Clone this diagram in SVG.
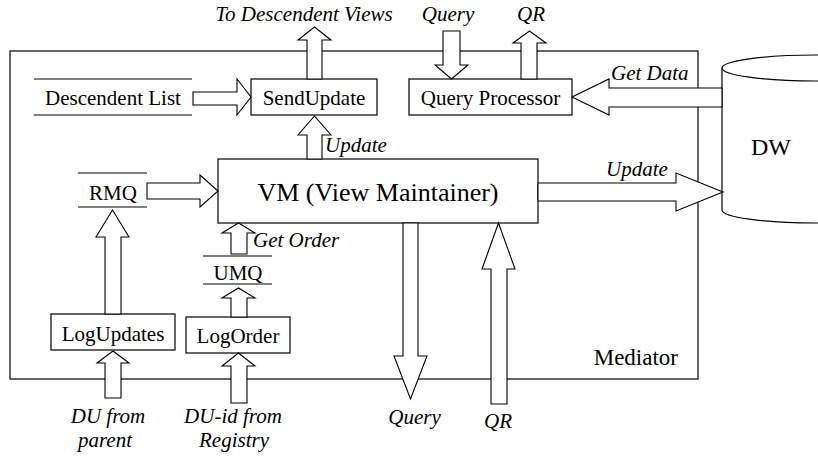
<svg xmlns="http://www.w3.org/2000/svg" width="818" height="457" viewBox="0 0 818 457">
  <style>
    .box { fill: #fff; stroke: #000; stroke-width: 1.2; }
    .frame { fill: none; stroke: #000; stroke-width: 1.2; }
    .rule { stroke: #000; stroke-width: 1.2; }
    .arrow { fill: #fff; stroke: #000; stroke-width: 1.1; stroke-linejoin: miter; }
    text { font-family: "Liberation Serif", "Times New Roman", serif; fill: #000; }
    .lbl { font-size: 21px; text-anchor: middle; }
    .it { font-size: 21px; font-style: italic; }
    .mid { text-anchor: middle; }
  </style>

  <!-- Mediator boundary -->
  <g id="mediator">
    <rect class="frame" x="10" y="51" width="688" height="328"/>
    <text x="678" y="365" style="font-size:23px" text-anchor="end">Mediator</text>
  </g>

  <!-- Data warehouse cylinder -->
  <g id="dw">
    <path class="box" d="M722,68 V210 A93,13 0 0 0 908,210 V68 Z"/>
    <ellipse class="box" cx="815" cy="68" rx="93" ry="13"/>
    <text x="771" y="155" style="font-size:24px" text-anchor="middle">DW</text>
  </g>

  <g id="descendent-list">
    <line class="rule" x1="34" y1="79" x2="192" y2="79"/>
    <line class="rule" x1="34" y1="115" x2="192" y2="115"/>
    <text class="lbl" x="113" y="105">Descendent List</text>
  </g>

  <g id="send-update">
    <rect class="box" x="251" y="79" width="126" height="36"/>
    <text class="lbl" x="314" y="105">SendUpdate</text>
  </g>

  <g id="query-processor">
    <rect class="box" x="409" y="79" width="163" height="36"/>
    <text class="lbl" x="490.5" y="105">Query Processor</text>
  </g>

  <g id="vm">
    <rect class="box" x="218" y="159" width="320" height="64"/>
    <text x="378" y="201" style="font-size:26px" text-anchor="middle">VM (View Maintainer)</text>
  </g>

  <g id="rmq">
    <line class="rule" x1="78" y1="173" x2="147" y2="173"/>
    <line class="rule" x1="78" y1="207" x2="147" y2="207"/>
    <text class="lbl" x="113" y="200">RMQ</text>
  </g>

  <g id="umq">
    <line class="rule" x1="203" y1="256" x2="272" y2="256"/>
    <line class="rule" x1="203" y1="284" x2="272" y2="284"/>
    <text class="lbl" x="238" y="280">UMQ</text>
  </g>

  <g id="log-updates">
    <rect class="box" x="51" y="314" width="124" height="36"/>
    <text class="lbl" x="113" y="341">LogUpdates</text>
  </g>

  <g id="log-order">
    <rect class="box" x="186" y="317" width="104" height="36"/>
    <text class="lbl" x="238" y="343">LogOrder</text>
  </g>

  <!-- Block arrows -->
  <g id="connectors">
    <!-- Descendent List -> SendUpdate -->
    <polygon class="arrow" points="193,92 237,92 237,79 251,97 237,115 237,105 193,105"/>
    <!-- SendUpdate -> descendent views -->
    <polygon class="arrow" points="307,79 307,40 298,40 314.5,27 331,40 322,40 322,79"/>
    <!-- VM -> SendUpdate -->
    <polygon class="arrow" points="307,159 307,135 298,135 314.5,116 331,135 322,135 322,159"/>
    <!-- RMQ -> VM -->
    <polygon class="arrow" points="147,183 200,183 200,175 218,191 200,207 200,199 147,199"/>
    <!-- LogUpdates -> RMQ -->
    <polygon class="arrow" points="105,314 105,237 96,237 112.5,210 129,237 121,237 121,314"/>
    <!-- DU from parent -> LogUpdates -->
    <polygon class="arrow" points="105,398 105,363 97,363 113,351 129,363 121,363 121,398"/>
    <!-- DU-id from Registry -> LogOrder -->
    <polygon class="arrow" points="231,403 231,366 222,366 238.5,353 255,366 247,366 247,403"/>
    <!-- LogOrder -> UMQ -->
    <polygon class="arrow" points="231,317 231,298 222,298 238.5,288 255,298 247,298 247,317"/>
    <!-- UMQ -> VM (Get Order) -->
    <polygon class="arrow" points="231,254 231,233 222,233 238.5,223 255,233 247,233 247,254"/>
    <!-- Query -> Query Processor -->
    <polygon class="arrow" points="443,31 460,31 460,65 468,65 451.5,79 435,65 443,65"/>
    <!-- Query Processor -> QR -->
    <polygon class="arrow" points="521,79 521,43 513,43 529.5,31 546,43 537,43 537,79"/>
    <!-- DW -> Query Processor (Get Data) -->
    <polygon class="arrow" points="722,88 609,88 609,79 572,97 609,115 609,107 722,107"/>
    <!-- VM -> DW (Update) -->
    <polygon class="arrow" points="538,183 676,183 676,173 723,192 676,211 676,201 538,201"/>
    <!-- VM -> Query out -->
    <polygon class="arrow" points="403,223 418,223 418,356 427,356 410.5,399 394,356 403,356"/>
    <!-- QR in -> VM -->
    <polygon class="arrow" points="491,404 491,269 482,269 498.5,223 515,269 507,269 507,404"/>
  </g>

  <!-- Flow labels -->
  <g id="labels">
    <text class="it mid" x="304" y="21">To Descendent Views</text>
    <text class="it mid" x="448" y="21">Query</text>
    <text class="it mid" x="531" y="21">QR</text>
    <text class="it" x="611" y="80">Get Data</text>
    <text class="it" x="325" y="152">Update</text>
    <text class="it" x="606" y="176">Update</text>
    <text class="it" x="253" y="247">Get Order</text>
    <text class="it mid" x="108" y="423">DU from</text>
    <text class="it mid" x="105" y="447">parent</text>
    <text class="it mid" x="233" y="423">DU-id from</text>
    <text class="it mid" x="234" y="447">Registry</text>
    <text class="it mid" x="414.5" y="424">Query</text>
    <text class="it mid" x="498" y="428">QR</text>
  </g>
</svg>
